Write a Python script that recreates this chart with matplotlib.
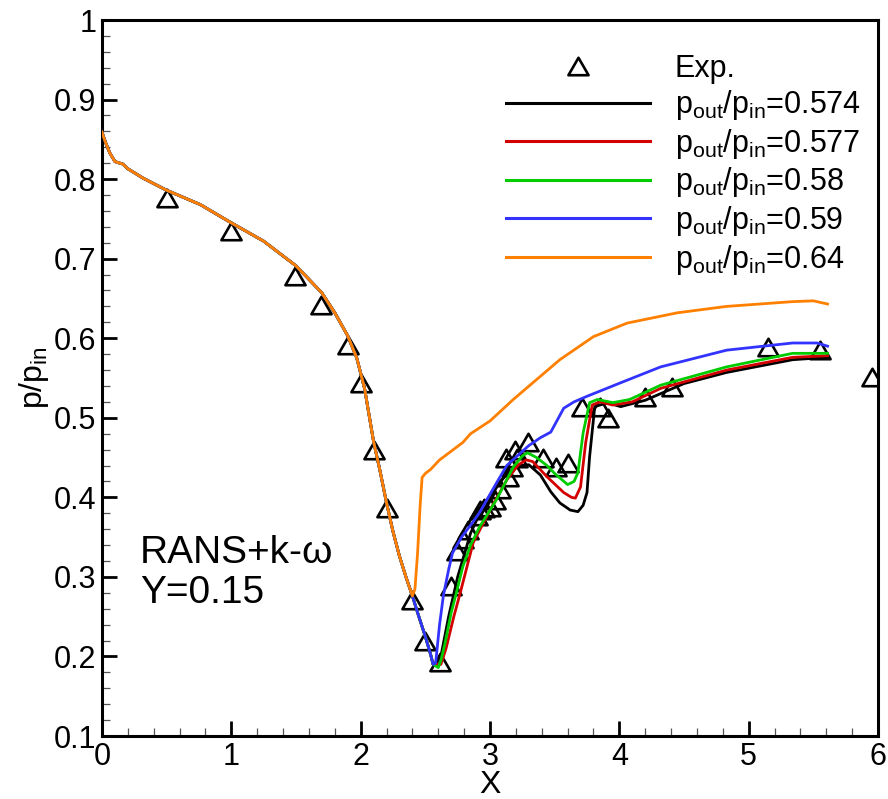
import matplotlib
matplotlib.use("Agg")
import matplotlib.pyplot as plt
from matplotlib.lines import Line2D
from matplotlib.path import Path
from matplotlib.ticker import MultipleLocator, FuncFormatter

plt.rcParams['font.family'] = ['Liberation Sans', 'DejaVu Sans']
plt.rcParams['mathtext.fontset'] = 'custom'
plt.rcParams['mathtext.rm'] = 'Liberation Sans'
plt.rcParams['mathtext.it'] = 'Liberation Sans'

# Experimental wall pressure
exp_x = [0.50, 1.00, 1.49, 1.69, 1.90, 2.00, 2.10, 2.20, 2.40, 2.50, 2.61,
         2.70, 2.745, 2.79, 2.83, 2.90, 2.95, 3.12, 3.19, 3.29,
         2.92, 3.00, 3.04, 3.08, 3.14, 3.17, 3.21,
         3.41, 3.51, 3.60, 3.71, 3.85, 3.91, 4.20, 4.41, 5.15, 5.55, 5.95]
exp_y = [0.776, 0.735, 0.678, 0.642, 0.592, 0.544, 0.459, 0.387, 0.271, 0.220, 0.193,
         0.288, 0.332, 0.347, 0.359, 0.376, 0.387, 0.450, 0.460, 0.469,
         0.384, 0.388, 0.397, 0.410, 0.426, 0.438, 0.450,
         0.450, 0.438, 0.443, 0.514, 0.514, 0.500, 0.526, 0.539, 0.589, 0.585, 0.551]

# Nozzle inlet part, common to all outlet pressure ratios
up_x = [0.00, 0.03, 0.06, 0.10, 0.16, 0.20, 0.32, 0.50, 0.76, 1.00, 1.25, 1.50,
        1.70, 1.80, 1.90, 1.97, 2.03, 2.10, 2.15, 2.20, 2.25, 2.30, 2.35, 2.40]
up_y = [0.859, 0.845, 0.833, 0.822, 0.819, 0.813, 0.801, 0.786, 0.768, 0.745, 0.722, 0.691,
        0.657, 0.632, 0.603, 0.575, 0.537, 0.470, 0.433, 0.393, 0.357, 0.326, 0.300, 0.276]

# Throat region shared by the lower pressure ratios
th_x = [2.45, 2.50, 2.54, 2.56]
th_y = [0.250, 0.225, 0.203, 0.190]

# Downstream parts for each pressure ratio
x574 = [2.58, 2.62, 2.68, 2.75, 2.85, 2.95, 3.05, 3.15, 3.23, 3.30, 3.39, 3.47, 3.54,
        3.62, 3.68, 3.72, 3.75, 3.77, 3.81, 3.91, 4.01, 4.20, 4.50, 4.83, 5.34, 5.61]
y574 = [0.190, 0.200, 0.250, 0.300, 0.355, 0.390, 0.415, 0.432, 0.440, 0.441, 0.428, 0.407, 0.393,
        0.384, 0.382, 0.390, 0.406, 0.451, 0.514, 0.519, 0.514, 0.522, 0.543, 0.557, 0.573, 0.576]

x577 = [2.58, 2.62, 2.66, 2.72, 2.77, 2.87, 3.00, 3.13, 3.22, 3.28, 3.33, 3.44, 3.57,
        3.63, 3.66, 3.70, 3.74, 3.79, 3.85, 3.95, 4.10, 4.32, 4.83, 5.34, 5.61]
y577 = [0.190, 0.190, 0.210, 0.250, 0.280, 0.343, 0.384, 0.422, 0.441, 0.447, 0.445, 0.426, 0.406,
        0.400, 0.399, 0.413, 0.469, 0.516, 0.520, 0.516, 0.520, 0.537, 0.560, 0.576, 0.578]

x580 = [2.60, 2.62, 2.65, 2.70, 2.74, 2.79, 2.85, 2.92, 3.05, 3.18, 3.25, 3.29, 3.36, 3.44,
        3.50, 3.60, 3.65, 3.68, 3.72, 3.77, 3.83, 3.95, 4.08, 4.32, 4.83, 5.34, 5.61]
y580 = [0.186, 0.195, 0.215, 0.255, 0.280, 0.313, 0.340, 0.363, 0.397, 0.438, 0.452, 0.456, 0.450, 0.440,
        0.430, 0.416, 0.420, 0.431, 0.481, 0.519, 0.523, 0.519, 0.523, 0.541, 0.564, 0.581, 0.581]

x590 = [2.58, 2.61, 2.64, 2.68, 2.71, 2.78, 2.85, 2.92, 3.05, 3.13, 3.21, 3.30, 3.39, 3.47,
        3.53, 3.57, 3.65, 3.75, 4.01, 4.32, 4.83, 5.34, 5.53, 5.61]
y590 = [0.192, 0.240, 0.277, 0.309, 0.330, 0.350, 0.365, 0.381, 0.418, 0.440, 0.452, 0.465, 0.475, 0.482,
        0.500, 0.512, 0.520, 0.527, 0.544, 0.564, 0.585, 0.594, 0.594, 0.590]

x640 = [2.42, 2.44, 2.46, 2.475, 2.50, 2.54, 2.61, 2.70, 2.79, 2.85, 3.00, 3.18, 3.36, 3.54,
        3.80, 4.06, 4.45, 4.83, 5.34, 5.50, 5.61]
y640 = [0.285, 0.330, 0.390, 0.425, 0.430, 0.435, 0.447, 0.458, 0.469, 0.480, 0.496, 0.523, 0.548, 0.573,
        0.602, 0.619, 0.632, 0.640, 0.646, 0.647, 0.643]

ratios = ['0.574', '0.577', '0.58', '0.59', '0.64']
colors = ['#000000', '#d40000', '#00cc00', '#3333ff', '#ff8000']

series = [
    (up_x + th_x + x574, up_y + th_y + y574),
    (up_x + th_x + x577, up_y + th_y + y577),
    (up_x + th_x + x580, up_y + th_y + y580),
    (up_x + th_x + x590, up_y + th_y + y590),
    (up_x + x640, up_y + y640),
]

# Closed equilateral triangle marker
tri = Path([(-1, -0.866), (1, -0.866), (0, 0.866), (-1, -0.866)],
           [Path.MOVETO, Path.LINETO, Path.LINETO, Path.CLOSEPOLY])

fig = plt.figure(figsize=(8.88, 7.99), dpi=100)
ax = fig.add_axes([102 / 888, 1 - 736 / 799, 776 / 888, 716 / 799])

ax.plot(exp_x, exp_y, linestyle='none', marker=tri, markersize=14.5,
        markerfacecolor='none', markeredgecolor='black', markeredgewidth=1.9, zorder=2)

for (xs, ys), c in zip(series, colors):
    ax.plot(xs, ys, color=c, lw=2.0, zorder=3, solid_joinstyle='round')

ax.set_xlim(0, 6)
ax.set_ylim(0.1, 1.0)
ax.xaxis.set_major_locator(MultipleLocator(1))
ax.xaxis.set_minor_locator(MultipleLocator(0.2))
ax.yaxis.set_major_locator(MultipleLocator(0.1))
ax.yaxis.set_minor_locator(MultipleLocator(0.02))
fmt = FuncFormatter(lambda v, p: ('%.1f' % v).rstrip('0').rstrip('.') if v != 0 else '0')
ax.xaxis.set_major_formatter(fmt)
ax.yaxis.set_major_formatter(fmt)

for s in ax.spines.values():
    s.set_linewidth(2.2)
ax.tick_params(which='major', direction='in', length=11, width=2.0, labelsize=22,
               top=False, right=False, pad=4)
ax.tick_params(which='minor', direction='in', length=6, width=0.9, color='#555555',
               top=False, right=False)

ax.set_xlabel('X', fontsize=23)
ax.xaxis.label.set_va('baseline')
ax.xaxis.set_label_coords(0.5, -0.0795)
ax.set_ylabel(r'p/p$_{\mathregular{in}}$', fontsize=23, labelpad=2)

ax.text(0.049, 0.2416, r'RANS+k-ω', transform=ax.transAxes, fontsize=28, va='baseline')
ax.text(0.049, 0.186, 'Y=0.15', transform=ax.transAxes, fontsize=28, va='baseline')

handles = [Line2D([], [], linestyle='none', marker=tri, markersize=14.5,
                  markerfacecolor='none', markeredgecolor='black', markeredgewidth=1.9)]
labels = ['Exp.']
for r, c in zip(ratios, colors):
    handles.append(Line2D([], [], color=c, lw=2.2))
    labels.append(r'p$_{\mathregular{out}}$/p$_{\mathregular{in}}$=' + r)

ax.legend(handles, labels, loc='upper left', bbox_to_anchor=(0.5206, 0.953),
          frameon=False, fontsize=22, handlelength=4.7, handletextpad=0.82,
          labelspacing=0.15, borderpad=0, borderaxespad=0)

fig.savefig('out.png', dpi=100)
